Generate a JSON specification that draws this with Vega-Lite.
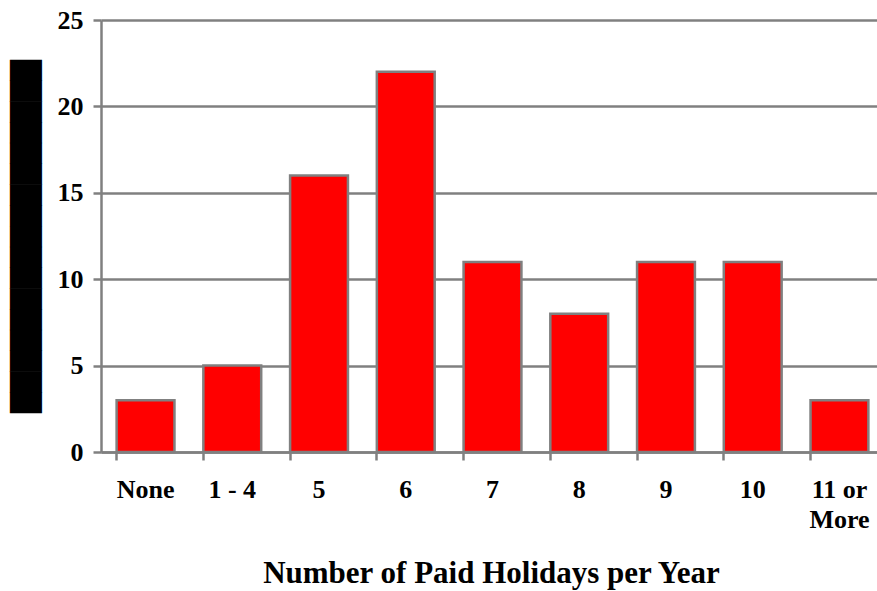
{
  "$schema": "https://vega.github.io/schema/vega-lite/v6.json",
  "autosize": {"type": "none"},
  "width": 783,
  "height": 432,
  "padding": {"left": 101, "top": 20, "right": 0, "bottom": 139},
  "background": "white",
  "config": {
    "view": {"stroke": null},
    "font": "Liberation Serif"
  },
  "data": {
    "values": [
      {"holidays": "None", "value": 3},
      {"holidays": "1 - 4", "value": 5},
      {"holidays": "5", "value": 16},
      {"holidays": "6", "value": 22},
      {"holidays": "7", "value": 11},
      {"holidays": "8", "value": 8},
      {"holidays": "9", "value": 11},
      {"holidays": "10", "value": 11},
      {"holidays": "11 or More", "value": 3}
    ]
  },
  "mark": {"type": "bar", "color": "#ff0000", "stroke": "#808080", "strokeWidth": 2.5},
  "encoding": {
    "x": {
      "field": "holidays",
      "type": "nominal",
      "sort": null,
      "scale": {"paddingInner": 0.333, "paddingOuter": 0.18},
      "axis": {
        "title": "Number of Paid Holidays per Year",
        "titleFont": "Liberation Serif",
        "titleFontSize": 31,
        "titleFontWeight": "bold",
        "titleColor": "black",
        "titleY": 130,
        "titleX": 390,
        "titleBaseline": "alphabetic",
        "labelAngle": 0,
        "labelFont": "Liberation Serif",
        "labelFontSize": 26,
        "labelFontWeight": "bold",
        "labelColor": "black",
        "labelPadding": 16,
        "labelLineHeight": 30,
        "labelExpr": "datum.value == '11 or More' ? ['11 or', 'More'] : datum.value",
        "bandPosition": 0,
        "domainColor": "#808080",
        "domainWidth": 2.5,
        "tickColor": "#808080",
        "tickWidth": 2.5,
        "tickSize": 8,
        "grid": false
      }
    },
    "y": {
      "field": "value",
      "type": "quantitative",
      "scale": {"domain": [0, 25], "nice": false},
      "axis": {
        "title": "█████████████████",
        "titleFont": "DejaVu Sans",
        "titleFontSize": 27,
        "titleColor": "black",
        "titleAngle": -90,
        "titleX": -74.5,
        "titleY": 216,
        "titleAlign": "center",
        "titleBaseline": "middle",
        "values": [0, 5, 10, 15, 20, 25],
        "labelFont": "Liberation Serif",
        "labelFontSize": 26,
        "labelFontWeight": "bold",
        "labelColor": "black",
        "labelPadding": 10,
        "domainColor": "#808080",
        "domainWidth": 2.5,
        "tickColor": "#808080",
        "tickWidth": 2.5,
        "tickSize": 8,
        "gridColor": "#808080",
        "gridWidth": 2.5
      }
    }
  }
}
